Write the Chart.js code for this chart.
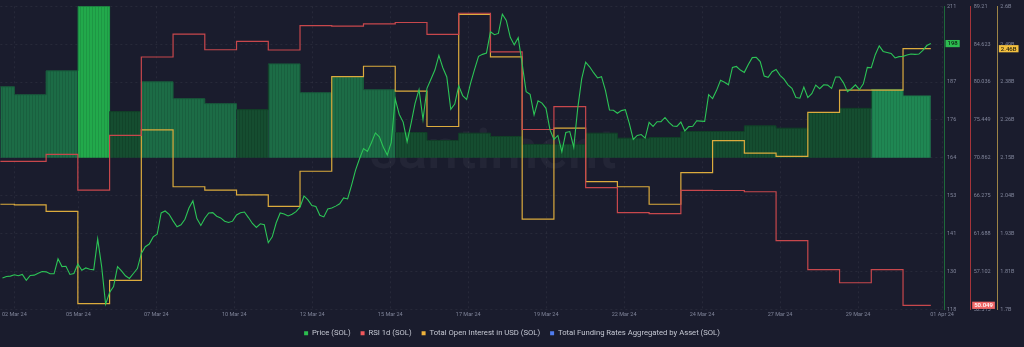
<!DOCTYPE html>
<html>
<head>
<meta charset="utf-8">
<script src="https://cdn.jsdelivr.net/npm/chart.js@4.4.1/dist/chart.umd.min.js"></script>
<style>
  html, body { margin: 0; padding: 0; background: #1a1c2d; }
  canvas { display: block; }
</style>
</head>
<body>
<canvas id="c" width="1024" height="347"></canvas>
<script>
// ---------------- DATA ----------------
// x values are in days counted from the first full daily candle shown
const xTickLabels = ['02 Mar 24','05 Mar 24','07 Mar 24','10 Mar 24','12 Mar 24','15 Mar 24','17 Mar 24','19 Mar 24','22 Mar 24','24 Mar 24','27 Mar 24','29 Mar 24','01 Apr 24'];
const xTickDays = [0, 2.016, 4.472, 6.929, 9.386, 11.843, 14.299, 16.756, 19.213, 21.669, 24.126, 26.583, 29.228];

const priceTickLabels = ['118','130','141','153','164','176','187','199','211'];
const rsiTickLabels = ['52.515','57.102','61.688','66.275','70.862','75.449','80.036','84.623','89.21'];
const oiTickLabels = ['1.7B','1.81B','1.93B','2.04B','2.15B','2.26B','2.38B','2.49B','2.6B'];
const lastValueTags = ['198', '50.049', '2.46B'];

// Price (SOL), every 3 hours, starting at day -0.375
const priceStartDay = -0.375;
const priceStepDays = 0.125;
const price = [
  127.5,128.0,128.1,128.5,128.2,128.6,126.8,128.3,128.4,129.0,
  129.5,129.4,128.8,128.8,133.4,131.0,131.1,128.6,128.9,131.8,
  129.9,130.6,130.2,130.0,139.5,131.0,119.5,123.1,124.9,131.0,
  129.7,128.2,127.4,128.9,130.4,135.0,137.1,137.9,140.1,140.9,
  147.4,148.0,147.0,145.0,143.2,143.8,145.5,148.9,151.1,145.7,
  143.6,145.8,147.4,147.5,146.4,145.9,144.9,144.5,144.9,146.8,
  147.5,147.7,146.0,144.2,143.0,144.1,143.8,138.3,140.1,144.4,
  147.4,147.1,146.5,147.0,147.8,149.2,152.6,151.4,149.7,149.4,
  146.7,146.2,148.6,148.9,149.5,150.2,152.0,151.7,155.9,160.5,
  164.0,167.1,166.2,168.9,171.9,170.7,167.5,165.1,169.0,182.3,
  177.6,175.2,169.2,174.8,180.9,185.1,176.0,185.5,188.3,191.1,
  195.6,191.8,189.0,179.1,180.7,186.3,183.3,182.1,187.1,191.3,
  195.3,195.9,196.3,202.8,201.9,202.3,208.2,206.3,201.1,198.8,
  201.0,193.0,184.5,183.7,177.4,181.7,181.0,179.4,172.9,169.9,
  171.1,166.1,172.0,172.3,167.5,179.4,188.4,193.5,192.1,190.3,
  188.7,189.1,184.8,178.9,178.8,177.9,178.7,179.0,174.8,169.9,
  171.1,171.4,170.3,175.1,173.9,175.3,175.3,176.6,175.1,174.0,
  173.9,175.2,172.5,173.8,173.9,175.6,175.5,175.4,183.6,182.4,
  184.9,188.0,187.4,186.6,191.9,192.2,191.1,190.4,192.8,194.9,
  195.0,193.7,189.3,188.9,190.6,191.3,189.5,188.3,186.6,185.5,
  182.7,182.5,185.9,182.7,183.9,186.5,185.4,186.6,186.5,185.5,
  189.0,189.0,187.2,184.5,185.4,186.6,185.1,186.9,191.9,191.8,
  195.8,198.5,196.8,196.5,196.2,194.8,195.2,195.3,195.7,196.0,
  195.9,196.0,197.1,198.6,199.2
];

// Daily series, first value is day -1
const firstDay = -1;
const rsi1d = [70.44,70.44,71.28,66.95,73.57,83.07,85.84,83.95,84.96,83.92,86.86,86.80,87.08,87.25,85.80,88.37,83.68,74.29,77.06,67.25,64.22,64.10,66.92,66.90,66.75,60.82,57.33,55.73,57.33,53.00];
const openInterestB = [2.012,2.010,1.991,1.717,1.786,2.233,2.064,2.054,2.040,2.006,2.110,2.391,2.422,2.348,2.243,2.576,2.450,1.968,2.238,2.079,2.064,2.012,2.106,2.201,2.164,2.154,2.285,2.351,2.351,2.474];
const fundingRate = [0.0715,0.0635,0.0875,0.1525,0.0465,0.0765,0.0595,0.0545,0.0485,0.0945,0.0655,0.0815,0.0685,0.0255,0.0175,0.0248,0.0215,0.0135,0.0135,0.0248,0.0198,0.0205,0.0265,0.0265,0.0322,0.0298,0.0455,0.0498,0.0688,0.0622];

// ---------------- BUILD ----------------
const canvas = document.getElementById('c');
const ctx = canvas.getContext('2d');
const FONT = 'Roboto';
const BG = '#1a1c2d';
const GRID = 'rgba(255,255,255,0.06)';
const TICK = '#80859a';

const lastTime = priceStartDay + (price.length - 1) * priceStepDays;
const pricePts = price.map((v, i) => ({ x: priceStartDay + i * priceStepDays, y: v }));
function stepPoints(values) {
  const pts = values.map((v, k) => ({ x: firstDay + k, y: v }));
  pts.push({ x: lastTime, y: values[values.length - 1] });
  return pts;
}

function makePattern(base, stripe) {
  const c = document.createElement('canvas');
  c.width = 3; c.height = 1;
  const g = c.getContext('2d');
  g.fillStyle = base; g.fillRect(0, 0, 3, 1);
  g.fillStyle = stripe; g.fillRect(2, 0, 1, 1);
  return ctx.createPattern(c, 'repeat');
}
const fillBright = makePattern('#22a94b', '#1e9744');
const fillRecent = makePattern('#1f8753', '#1c7a4b');
const fillMid = makePattern('#1c6c46', '#19603f');
const fillDark = makePattern('#154d30', '#12442a');
// the two most recent (still filling) days are rendered in the lighter "live" shade
const liveDays = 2;
function isLive(i) { return i >= fundingRate.length - liveDays; }
function tierFill(v, i) { return isLive(i) ? fillRecent : (v >= 0.12 ? fillBright : (v >= 0.052 ? fillMid : fillDark)); }
function tierBorder(v, i) { return isLive(i) ? '#1c7a4b' : (v >= 0.12 ? '#1f9a45' : (v >= 0.052 ? '#185a3b' : '#113f27')); }

const legendColors = ['#2cbf4f', '#f0575b', '#eeb23b', '#4f7cf0'];

const evenTicks = (n) => (scale) => {
  const min = scale.min, max = scale.max;
  scale.ticks = Array.from({ length: n }, (_, i) => ({ value: min + (max - min) * i / (n - 1) }));
};
const tickFont = { family: FONT, size: 5.5 };

const bgPlugin = {
  id: 'bg',
  beforeDraw(chart) {
    const c = chart.ctx;
    c.save(); c.fillStyle = BG; c.fillRect(0, 0, chart.width, chart.height); c.restore();
  }
};
const watermarkPlugin = {
  id: 'wm',
  beforeDatasetsDraw(chart) {
    const c = chart.ctx;
    c.save();
    c.font = '500 55px ' + FONT;
    c.fillStyle = 'rgba(255,255,255,0.045)';
    c.textAlign = 'center';
    c.textBaseline = 'alphabetic';
    c.fillText('santiment', 493, 168);
    c.restore();
  }
};
function drawTag(c, scale, value, text, bg, fg) {
  const y = scale.getPixelForValue(value);
  c.font = '500 6px ' + FONT;
  const w = c.measureText(text).width + 4;
  const x = scale.left + 1.5;
  c.fillStyle = bg;
  c.fillRect(x, y - 3.6, w, 7.2);
  c.fillStyle = fg;
  c.textAlign = 'left';
  c.textBaseline = 'middle';
  c.fillText(text, x + 2, y + 0.3);
}
const tagPlugin = {
  id: 'tags',
  afterDraw(chart) {
    const c = chart.ctx;
    c.save();
    drawTag(c, chart.scales.yP, price[price.length - 1], lastValueTags[0], '#2dbd50', '#0e2416');
    drawTag(c, chart.scales.yR, rsi1d[rsi1d.length - 1], lastValueTags[1], '#f06767', '#ffffff');
    drawTag(c, chart.scales.yO, openInterestB[openInterestB.length - 1], lastValueTags[2], '#f3c03f', '#2a2410');
    c.restore();
  }
};

new Chart(ctx, {
  type: 'line',
  data: {
    datasets: [
      { label: 'Price (SOL)', data: pricePts, yAxisID: 'yP', borderColor: '#2cc456', borderWidth: 1.1, pointRadius: 0, tension: 0, fill: false },
      { label: 'RSI 1d (SOL)', data: stepPoints(rsi1d), yAxisID: 'yR', stepped: true, borderColor: '#c8474c', borderWidth: 1.2, pointRadius: 0, fill: false },
      { label: 'Total Open Interest in USD (SOL)', data: stepPoints(openInterestB), yAxisID: 'yO', stepped: true, borderColor: '#dcab3d', borderWidth: 1.2, pointRadius: 0, fill: false },
      { label: 'Total Funding Rates Aggregated by Asset (SOL)', data: stepPoints(fundingRate), yAxisID: 'yF', stepped: true, fill: 'origin',
        pointRadius: 0, borderWidth: 1, borderColor: '#185a3b', backgroundColor: fillMid,
        segment: {
          backgroundColor: s => tierFill(s.p0.parsed.y, s.p0DataIndex),
          borderColor: s => tierBorder(s.p0.parsed.y, s.p0DataIndex)
        } }
    ]
  },
  options: {
    responsive: false,
    animation: false,
    layout: { padding: { top: 4, left: 0, right: 0, bottom: 0 } },
    scales: {
      x: {
        type: 'linear', position: 'bottom', min: -0.441, max: 29.291,
        afterBuildTicks: (s) => { s.ticks = xTickDays.map(v => ({ value: v })); },
        afterFit: (s) => { s.height = 10; },
        ticks: { callback: (v, i) => xTickLabels[i], autoSkip: false, maxRotation: 0, color: TICK, font: tickFont, padding: 2 },
        grid: { color: GRID, drawTicks: false },
        border: { display: false, dash: [2, 3] }
      },
      yP: {
        type: 'linear', position: 'right', min: 117.95, max: 210.6,
        afterBuildTicks: evenTicks(9),
        afterFit: (s) => { s.width = 26.67; },
        ticks: { callback: (v, i) => priceTickLabels[i], color: TICK, font: tickFont, padding: 3 },
        grid: { color: GRID, drawTicks: false },
        border: { color: '#1e6a3b', width: 1, dash: [2, 3] }
      },
      yR: {
        type: 'linear', position: 'right', min: 52.515, max: 89.21,
        afterBuildTicks: evenTicks(9),
        afterFit: (s) => { s.width = 26.67; },
        ticks: { callback: (v, i) => rsiTickLabels[i], color: TICK, font: tickFont, padding: 3 },
        grid: { display: false, drawTicks: false },
        border: { color: '#a5343a', width: 1 }
      },
      yO: {
        type: 'linear', position: 'right', min: 1.7, max: 2.6,
        afterBuildTicks: evenTicks(9),
        afterFit: (s) => { s.width = 26.66; },
        ticks: { callback: (v, i) => oiTickLabels[i], color: TICK, font: tickFont, padding: 3 },
        grid: { display: false, drawTicks: false },
        border: { color: '#9d8446', width: 1 }
      },
      yF: { type: 'linear', display: false, min: -0.1525, max: 0.1525 }
    },
    plugins: {
      tooltip: { enabled: false },
      legend: {
        position: 'bottom',
        labels: {
          boxWidth: 4, boxHeight: 4, padding: 10, color: '#c5c8d3',
          font: { family: FONT, size: 7.7 },
          generateLabels: (chart) => chart.data.datasets.map((ds, i) => ({
            text: ds.label, fillStyle: legendColors[i], strokeStyle: legendColors[i],
            lineWidth: 0, hidden: false, datasetIndex: i, fontColor: '#c5c8d3'
          }))
        }
      }
    }
  },
  plugins: [bgPlugin, watermarkPlugin, tagPlugin]
});
</script>
</body>
</html>
